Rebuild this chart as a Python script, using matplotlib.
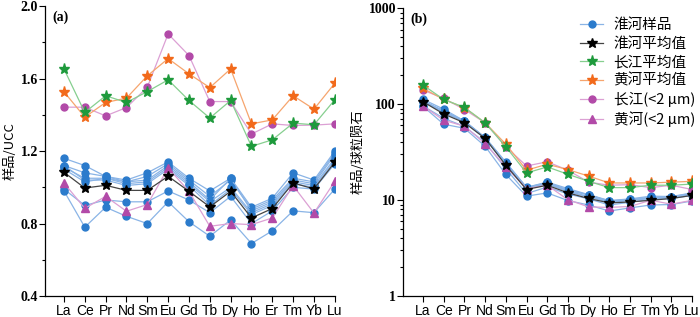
import matplotlib.pyplot as plt
import matplotlib.ticker as mticker
import numpy as np

plt.rcParams['font.family'] = ['Liberation Sans', 'Noto Sans CJK SC', 'DejaVu Sans']

elements = ['La', 'Ce', 'Pr', 'Nd', 'Sm', 'Eu', 'Gd', 'Tb', 'Dy', 'Ho', 'Er', 'Tm', 'Yb', 'Lu']

# (a) sample / UCC
huaihe_ucc = [
    [1.16, 1.12, 1.06, 1.04, 1.08, 1.14, 1.05, 0.98, 1.05, 0.89, 0.94, 1.08, 1.04, 1.20],
    [1.12, 1.08, 1.06, 1.03, 1.06, 1.13, 1.04, 0.95, 1.04, 0.88, 0.93, 1.05, 1.03, 1.19],
    [1.11, 1.05, 1.05, 1.03, 1.04, 1.12, 1.03, 0.93, 1.05, 0.87, 0.92, 1.04, 1.02, 1.18],
    [1.10, 1.03, 1.05, 1.02, 1.03, 1.11, 1.02, 0.92, 1.00, 0.86, 0.91, 1.03, 1.01, 1.16],
    [1.12, 1.04, 1.04, 1.01, 1.02, 1.10, 1.01, 0.90, 0.99, 0.85, 0.90, 1.02, 1.00, 1.15],
    [0.99, 0.90, 0.93, 0.92, 0.92, 0.98, 0.93, 0.86, 0.95, 0.80, 0.87, 1.00, 0.99, 1.13],
    [0.98, 0.78, 0.89, 0.84, 0.80, 0.92, 0.81, 0.73, 0.82, 0.69, 0.76, 0.87, 0.86, 0.99],
]
huaihe_avg_ucc = [1.083, 0.996, 1.011, 0.983, 0.983, 1.061, 0.978, 0.892, 0.978, 0.831, 0.883, 1.024, 0.991, 1.139]
yangtze_avg_ucc = [1.653, 1.413, 1.505, 1.468, 1.528, 1.593, 1.479, 1.382, 1.479, 1.226, 1.262, 1.354, 1.345, 1.483]
yellow_avg_ucc = [1.527, 1.387, 1.468, 1.492, 1.615, 1.710, 1.626, 1.550, 1.653, 1.350, 1.372, 1.505, 1.431, 1.574]
yangtze_clay_ucc = [1.442, 1.442, 1.394, 1.440, 1.552, 1.846, 1.727, 1.473, 1.473, 1.294, 1.350, 1.341, 1.343, 1.350]
yellow_clay_ucc = [1.024, 0.884, 0.950, 0.868, 0.905, 1.106, 0.978, 0.785, 0.800, 0.794, 0.831, 1.009, 0.858, 1.033]

# (b) sample / chondrite
huaihe_cho = [
    [112.3, 88.7, 66.8, 45.0, 24.9, 13.6, 15.4, 13.2, 11.4, 9.9, 10.3, 11.0, 10.9, 11.9],
    [108.4, 85.5, 66.8, 44.6, 24.5, 13.5, 15.3, 12.8, 11.3, 9.8, 10.2, 10.7, 10.8, 11.8],
    [107.4, 83.2, 66.2, 44.6, 24.0, 13.4, 15.1, 12.6, 11.4, 9.7, 10.1, 10.6, 10.7, 11.7],
    [106.5, 81.6, 66.2, 44.2, 23.8, 13.3, 15.0, 12.4, 10.9, 9.6, 10.0, 10.5, 10.6, 11.5],
    [108.4, 82.4, 65.5, 43.7, 23.6, 13.2, 14.8, 12.2, 10.8, 9.5, 9.9, 10.4, 10.5, 11.4],
    [95.8, 71.3, 58.6, 39.8, 21.3, 11.7, 13.7, 11.6, 10.3, 8.9, 9.5, 10.2, 10.4, 11.2],
    [94.9, 61.8, 56.1, 36.4, 18.5, 11.0, 11.9, 9.9, 8.9, 7.7, 8.3, 8.9, 9.0, 9.8],
]
huaihe_avg_cho = [106, 79, 64, 44, 23.1, 12.9, 14.3, 11.9, 10.4, 9.36, 9.57, 9.97, 10.4, 11.2]
yangtze_avg_cho = [158, 112, 92.5, 64, 36, 19.2, 22.2, 18.6, 15.7, 13.5, 13.5, 14.3, 14.3, 14.7]
yellow_avg_cho = [146, 112, 92, 64, 38.3, 20.5, 23.7, 20.8, 17.8, 15.1, 15.1, 15.1, 15.4, 15.7]
yangtze_clay_cho = [140, 115, 88, 64, 36, 22.7, 25.1, 20.5, 15.4, 14.3, 14.5, 13.5, 14.3, 12.9]
yellow_clay_cho = [95.5, 68, 59, 38.9, 22.2, 13.2, 14.3, 10.1, 8.5, 8.4, 8.6, 9.97, 9.06, 9.97]

labels = ['淮河样品', '淮河平均值', '长江平均值', '黄河平均值', '长江(<2 μm)', '黄河(<2 μm)']

blue, blue_l = '#2b7bcc', '#8ab4e6'
green, green_l = '#1e9a3c', '#86cf8f'
orange, orange_l = '#f26a1b', '#f6a56e'
purple, purple_l = '#b24aa8', '#dca0d4'

x = np.arange(len(elements))

fig = plt.figure(figsize=(7, 3.17), dpi=100)
ax1 = fig.add_axes([0.0643, 0.066, 0.414, 0.915])
ax2 = fig.add_axes([0.5757, 0.066, 0.413, 0.908])


def draw(ax, samples, avg, yz_avg, yr_avg, yz_clay, yr_clay):
    hs = []
    for s in samples:
        h, = ax.plot(x, s, '-o', color=blue_l, lw=0.9, ms=5, mfc=blue, mec=blue, zorder=2)
    hs.append(h)
    h_tri, = ax.plot(x, yr_clay, '-^', color=purple_l, lw=0.9, ms=5.5, mfc=purple, mec=purple, zorder=3)
    h_avg, = ax.plot(x, avg, '-*', color='#444444', lw=0.9, ms=7.5, mfc='black', mec='black', zorder=4)
    h_cir, = ax.plot(x, yz_clay, '-o', color=purple_l, lw=0.9, ms=5, mfc=purple, mec=purple, zorder=3)
    h_yr, = ax.plot(x, yr_avg, '-*', color=orange_l, lw=0.9, ms=8, mfc=orange, mec=orange, zorder=4)
    h_yz, = ax.plot(x, yz_avg, '-*', color=green_l, lw=0.9, ms=8, mfc=green, mec=green, zorder=5)
    for sp in ['top', 'right']:
        ax.spines[sp].set_visible(False)
    ax.spines['left'].set_linewidth(0.9)
    ax.spines['bottom'].set_linewidth(0.9)
    ax.set_xticks(x)
    ax.set_xticklabels(elements, fontsize=10)
    ax.tick_params(axis='x', length=4, width=0.8, pad=2)
    ax.tick_params(axis='y', which='major', length=4, width=0.8, pad=1)
    ax.tick_params(axis='y', which='minor', length=2.5, width=0.8)
    return [hs[0], h_avg, h_yz, h_yr, h_cir, h_tri]


def style_yticks(ax):
    for t in ax.get_yticklabels():
        t.set_family('Liberation Serif')
        t.set_fontweight('bold')
        t.set_fontsize(10)


draw(ax1, huaihe_ucc, huaihe_avg_ucc, yangtze_avg_ucc, yellow_avg_ucc, yangtze_clay_ucc, yellow_clay_ucc)
ax1.set_xlim(-0.91, 13.0)
ax1.set_ylim(0.4, 2.0)
ax1.yaxis.set_major_locator(mticker.MultipleLocator(0.4))
ax1.yaxis.set_minor_locator(mticker.MultipleLocator(0.2))
ax1.yaxis.set_major_formatter(mticker.FormatStrFormatter('%.1f'))
style_yticks(ax1)
ax1.set_ylabel('样品/UCC', fontsize=9.5, labelpad=3, family=['Noto Sans CJK SC', 'DejaVu Sans'])
ax1.text(0.025, 0.985, '(a)', transform=ax1.transAxes, fontsize=10, fontweight='bold',
         family='Liberation Serif', va='top')

leg_handles = draw(ax2, huaihe_cho, huaihe_avg_cho, yangtze_avg_cho, yellow_avg_cho,
                   yangtze_clay_cho, yellow_clay_cho)
ax2.set_yscale('log')
ax2.set_xlim(-0.97, 13.0)
ax2.set_ylim(1, 1000)
ax2.yaxis.set_major_locator(mticker.LogLocator(base=10))
ax2.yaxis.set_minor_locator(mticker.LogLocator(base=10, subs=np.arange(2, 10)))
ax2.yaxis.set_major_formatter(mticker.FuncFormatter(lambda v, p: '%d' % v))
ax2.yaxis.set_minor_formatter(mticker.NullFormatter())
style_yticks(ax2)
ax2.set_ylabel('样品/球粒陨石', fontsize=9.5, labelpad=3, family=['Noto Sans CJK SC', 'DejaVu Sans'])
ax2.text(0.025, 0.985, '(b)', transform=ax2.transAxes, fontsize=10, fontweight='bold',
         family='Liberation Serif', va='top')

ax2.legend(leg_handles, labels, loc='upper right', bbox_to_anchor=(1.045, 1.0), frameon=False,
           handlelength=1.6, labelspacing=0.3, handletextpad=0.7, borderaxespad=0.3,
           prop={'family': ['Noto Sans CJK SC', 'DejaVu Sans'], 'size': 10.5})

fig.savefig('out.png', dpi=100)
